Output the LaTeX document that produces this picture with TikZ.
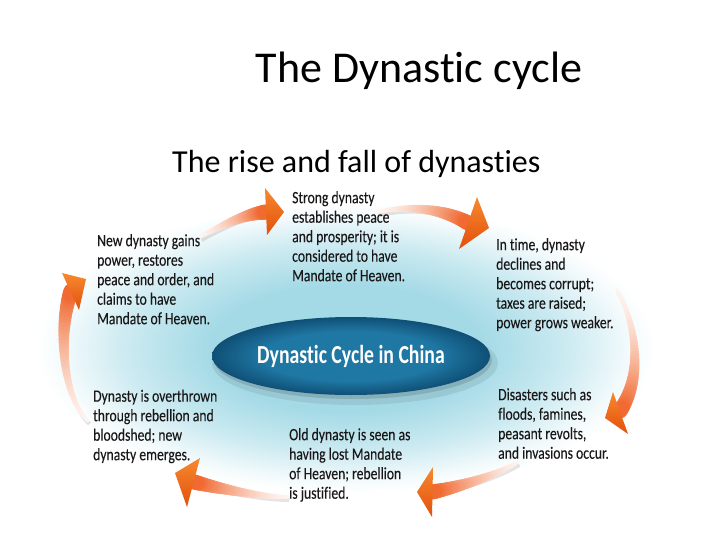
\documentclass[tikz,border=0pt]{standalone}
\usepackage{fontspec}
\usetikzlibrary{shapes.geometric}
\setmainfont{Carlito}[Ligatures=NoCommon]
\newfontfamily\condfont{Carlito}[FakeStretch=0.79, FakeBold=0.1, Ligatures=NoCommon]
\newfontfamily\condbold{Carlito}[FakeStretch=0.76, Ligatures=NoCommon]
\definecolor{txt}{HTML}{1A1718}
\definecolor{arrowor}{HTML}{F06A32}
\definecolor{orL}{HTML}{F7892F}
\definecolor{orD}{HTML}{E2500C}
\definecolor{glowc}{HTML}{A4DAE6}
\definecolor{ellin}{HTML}{1F77A3}
\definecolor{ellout}{HTML}{0F4F76}
\pgfdeclareradialshading{glowshade}{\pgfpoint{0bp}{0bp}}{color(0bp)=(glowc); color(11bp)=(glowc); color(18bp)=(glowc!55!white); color(23bp)=(glowc!12!white); color(25bp)=(white); color(50bp)=(white)}
\pgfdeclareradialshading{ellshade}{\pgfpoint{0bp}{0bp}}{color(0bp)=(ellin); color(16bp)=(ellin); color(25bp)=(ellout); color(50bp)=(ellout)}
\newcommand\cyclearrow[8]{%
  \path (#2) .. controls (#3) and (#4) .. (#5)
    foreach \k [evaluate=\k as \t using \k/40] in {0,...,40} { coordinate[pos=\t] (#1-\k) };
  \draw[line width=4pt, black, opacity=0.10]
    ([shift={(1.5,3)}]#2) .. controls ([shift={(1.5,3)}]#3) and ([shift={(1.5,3)}]#4) .. ([shift={(1.5,3)}]#5);
  \foreach \k in {0,...,39} {
    \pgfmathtruncatemacro\kn{\k+1}
    \pgfmathsetmacro\w{3.5+11.5*(\k/39)^1.2}
    \pgfmathtruncatemacro\p{8+92*(\k/39)^1.6}
    \draw[line width=\w pt, draw=arrowor!\p!white, line cap=round] (#1-\k) -- (#1-\kn);
  }
  \shade[top color=orL, bottom color=orD] (#6) -- (#7) -- (#8) -- cycle;
}
\begin{document}
\begin{tikzpicture}[x=1pt,y=-1pt,
  lbl/.style={font=\condfont\fontsize{17.3}{19.5}\selectfont, text=txt, align=left, anchor=north west, inner sep=0pt}]
\useasboundingbox (0,0) rectangle (720,540);
\fill[white] (0,0) rectangle (720,540);
% glow
\shade[shading=glowshade] (346,348) ellipse [x radius=310, y radius=145];
% titles
\node[font=\fontsize{44}{50}\selectfont, anchor=base, inner sep=0pt] (title) at (419,83) {The Dynastic cycle};
\node[font=\fontsize{32}{38}\selectfont, anchor=base west, inner sep=0pt] (subtitle) at (172,173) {The rise and fall of dynasties};
% arrow coordinates
\coordinate (a1s) at (200,237); \coordinate (a1c) at (220,226); \coordinate (a1d) at (245,214); \coordinate (a1e) at (266,212);
\coordinate (a1t) at (284,212); \coordinate (a1p) at (265,188); \coordinate (a1q) at (267,235);
\coordinate (a2s) at (378,212); \coordinate (a2c) at (405,206); \coordinate (a2d) at (440,207); \coordinate (a2e) at (468,223);
\coordinate (a2t) at (489,228); \coordinate (a2p) at (477,197); \coordinate (a2q) at (459,249);
\coordinate (a3s) at (617,290); \coordinate (a3c) at (638,328); \coordinate (a3d) at (642,378); \coordinate (a3e) at (620,411);
\coordinate (a3t) at (605,418); \coordinate (a3p) at (613,392); \coordinate (a3q) at (628,434);
\coordinate (a4s) at (518,462); \coordinate (a4c) at (500,473); \coordinate (a4d) at (465,486); \coordinate (a4e) at (432,492);
\coordinate (a4t) at (417,492); \coordinate (a4p) at (433,467); \coordinate (a4q) at (432,517);
\coordinate (a5s) at (288,497); \coordinate (a5c) at (262,497); \coordinate (a5d) at (225,490); \coordinate (a5e) at (194,482);
\coordinate (a5t) at (175,473); \coordinate (a5p) at (200,458); \coordinate (a5q) at (187,507);
\coordinate (a6s) at (88,421); \coordinate (a6c) at (62,396); \coordinate (a6d) at (58,330); \coordinate (a6e) at (71,291);
\coordinate (a6t) at (86,279); \coordinate (a6p) at (62,273); \coordinate (a6q) at (79,310);
\cyclearrow{r1}{a1s}{a1c}{a1d}{a1e}{a1t}{a1p}{a1q}
\cyclearrow{r2}{a2s}{a2c}{a2d}{a2e}{a2t}{a2p}{a2q}
\cyclearrow{r3}{a3s}{a3c}{a3d}{a3e}{a3t}{a3p}{a3q}
\cyclearrow{r4}{a4s}{a4c}{a4d}{a4e}{a4t}{a4p}{a4q}
\cyclearrow{r5}{a5s}{a5c}{a5d}{a5e}{a5t}{a5p}{a5q}
\cyclearrow{r6}{a6s}{a6c}{a6d}{a6e}{a6t}{a6p}{a6q}
% centre ellipse
\fill[black, opacity=0.08] (355,363) ellipse [x radius=143, y radius=42];
\fill[black, opacity=0.12] (353,360) ellipse [x radius=139, y radius=39];
\node[ellipse, shade, shading=ellshade, minimum width=278pt, minimum height=78pt, inner sep=0pt,
  text=white, font=\condbold\bfseries\fontsize{26}{30}\selectfont] (center) at (351,356) {Dynastic Cycle in China};
% texts
\node[lbl] (t1) at (292,191) {Strong dynasty\\establishes peace\\and prosperity; it is\\considered to have\\Mandate of Heaven.};
\node[lbl] (t2) at (496,238) {In time, dynasty\\declines and\\becomes corrupt;\\taxes are raised;\\power grows weaker.};
\node[lbl] (t3) at (97,234) {New dynasty gains\\power, restores\\peace and order, and\\claims to have\\Mandate of Heaven.};
\node[lbl] (t4) at (93,389.5) {Dynasty is overthrown\\through rebellion and\\bloodshed; new\\dynasty emerges.};
\node[lbl] (t5) at (289,428) {Old dynasty is seen as\\having lost Mandate\\of Heaven; rebellion\\is justified.};
\node[lbl] (t6) at (498,388) {Disasters such as\\floods, famines,\\peasant revolts,\\and invasions occur.};
\end{tikzpicture}
\end{document}
